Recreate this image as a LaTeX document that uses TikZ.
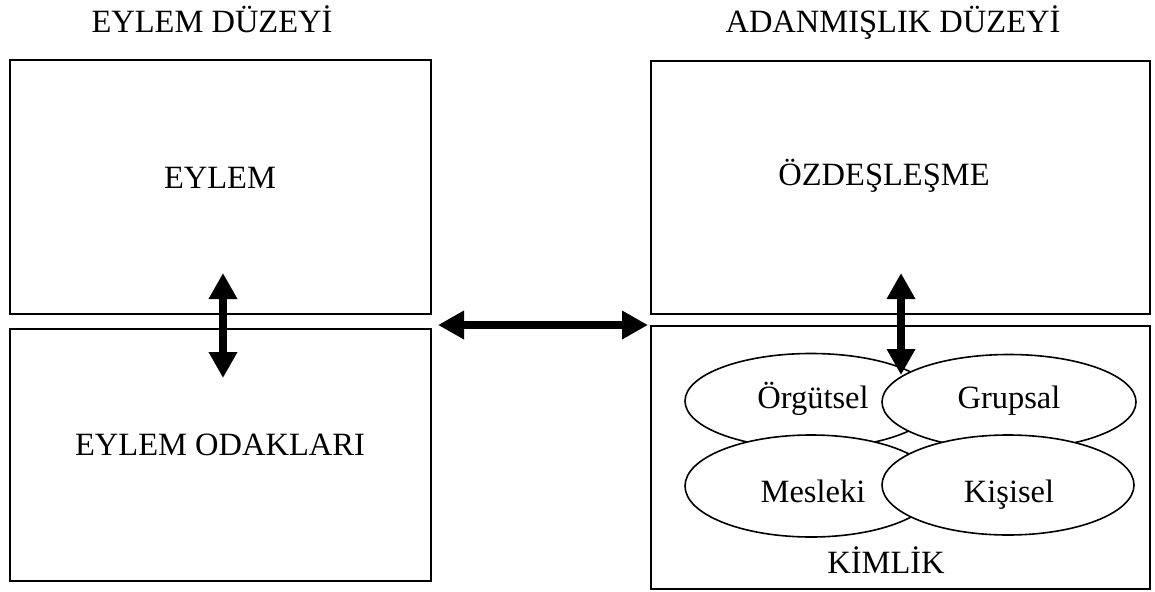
\documentclass[tikz,border=0pt]{standalone}
\usepackage{fontspec}
\setmainfont{Liberation Serif}
\usetikzlibrary{arrows.meta,shapes.geometric}
\begin{document}
\begin{tikzpicture}[x=1pt,y=-1pt,
  box/.style={draw=black,line width=2.4pt,inner sep=0pt},
  oval/.style={draw=black,line width=1.6pt,fill=white,ellipse,inner sep=0pt,minimum width=252pt},
  lbl/.style={anchor=base,inner sep=0pt,font=\fontsize{32.5}{39}\selectfont},
  bigarrow/.style={line width=8pt,{Triangle[length=26pt,width=27pt]}-{Triangle[length=26pt,width=27pt]}}]
\useasboundingbox (0,0) rectangle (1155,591);
% headings
\node[lbl] (h1) at (212,33) {EYLEM DÜZEYİ};
\node[lbl] (h2) at (893,33) {ADANMIŞLIK DÜZEYİ};
% boxes
\node[box,minimum width=421pt,minimum height=254pt] (eylem) at (220.5,187) {};
\node[box,minimum width=421pt,minimum height=252pt] (odak) at (220.5,455) {};
\node[box,minimum width=499pt,minimum height=253pt] (ozd) at (900.5,187.5) {};
\node[box,minimum width=499pt,minimum height=263pt] (kim) at (900.5,457.5) {};
% ellipses
\node[oval,minimum height=95pt] (org) at (811,401) {};
\node[oval,minimum height=95pt,minimum width=254pt] (grp) at (1009,402) {};
\node[oval,minimum height=102pt] (mes) at (811,486) {};
\node[oval,minimum height=100pt] (kis) at (1008,485) {};
% texts
\node[lbl] (t1) at (220,188) {EYLEM};
\node[lbl] (t2) at (220,455) {EYLEM ODAKLARI};
\node[lbl] (t3) at (884,185) {ÖZDEŞLEŞME};
\node[lbl] (t4) at (813,408) {Örgütsel};
\node[lbl] (t5) at (1009,408) {Grupsal};
\node[lbl] (t6) at (813,502) {Mesleki};
\node[lbl] (t7) at (1009,502) {Kişisel};
\node[lbl] (t8) at (886,573) {KİMLİK};
% arrows
\coordinate (a1) at (223,273);
\coordinate (a2) at (223,378);
\coordinate (b1) at (901,273);
\coordinate (b2) at (901,375);
\coordinate (c1) at (438,325);
\coordinate (c2) at (648,325);
\draw[bigarrow] (a1) -- (a2);
\draw[bigarrow] (b1) -- (b2);
\draw[bigarrow] (c1) -- (c2);
\end{tikzpicture}
\end{document}
